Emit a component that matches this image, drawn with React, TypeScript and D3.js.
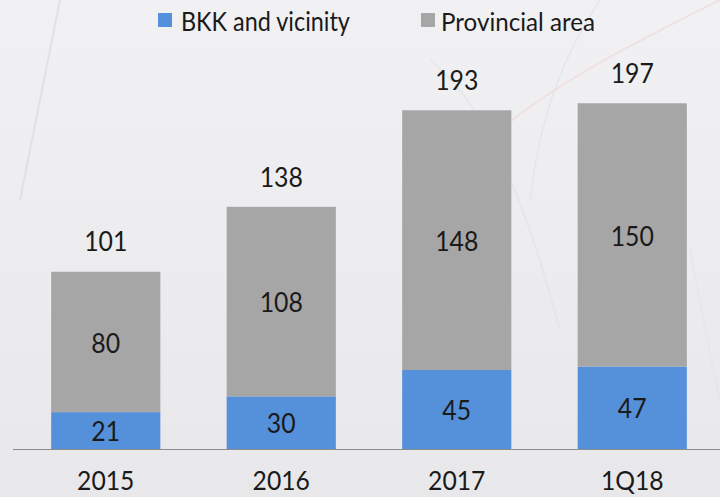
import React from "react";
import * as d3 from "d3";

const categories = ["2015", "2016", "2017", "1Q18"];
const bkk = [21, 30, 45, 47];
const provincial = [80, 108, 148, 150];
const totals = [101, 138, 193, 197];
const seriesNames = ["BKK and vicinity", "Provincial area"];
const colors = ["#5590da", "#a6a6a6"];

const W = 720;
const H = 497;
const FONT = "Lato, 'Open Sans', sans-serif";

function Label({ x, y, children, size = 27, sx = 0.92, anchor = "middle" }: any) {
  return (
    <text
      transform={`translate(${x},${y}) scale(${sx},1)`}
      dy="0.36em"
      textAnchor={anchor}
      fontFamily={FONT}
      fontSize={size}
      fill="#1a1a1a"
    >
      {children}
    </text>
  );
}

export default function App() {
  const x = d3.scaleBand<string>().domain(categories).range([18, 720]).paddingInner(0.378).paddingOuter(0.189);
  const y = d3.scaleLinear().domain([0, 100]).range([449, 273.5]);
  const rows = categories.map((c, i) => ({ cat: c, bkk: bkk[i], prov: provincial[i] }));
  const stack = d3.stack<any>().keys(["bkk", "prov"])(rows);
  const cx = (c: string) => (x(c) as number) + x.bandwidth() / 2;

  return (
    <svg width={W} height={H} style={{ position: "absolute", left: 0, top: 0 }}>
      <defs>
        <linearGradient id="bg" x1="0" y1="0" x2="0" y2="1">
          <stop offset="0" stopColor="#f1f1f3" />
          <stop offset="1" stopColor="#e8e8ea" />
        </linearGradient>
      </defs>
      <rect x={0} y={0} width={W} height={H} fill="url(#bg)" />
      {/* faint background strokes */}
      <path d="M60,0 L20,200" stroke="#d8dbe3" strokeWidth={2} fill="none" opacity={0.7} />
      <path d="M430,60 C480,100 520,180 560,330" stroke="#e0e2e8" strokeWidth={2} fill="none" opacity={0.6} />
      <path d="M720,0 C640,40 560,80 500,130" stroke="#efd9d9" strokeWidth={2} fill="none" opacity={0.7} />
      <path d="M600,0 C560,60 540,120 530,200" stroke="#dfe1e7" strokeWidth={1.5} fill="none" opacity={0.6} />
      <path d="M690,250 C700,300 710,360 720,400" stroke="#e0e2e8" strokeWidth={1.5} fill="none" opacity={0.6} />

      {stack.map((s, si) =>
        s.map((d, i) => (
          <rect
            key={`${si}-${i}`}
            x={x(categories[i])}
            y={y(d[1])}
            width={x.bandwidth()}
            height={y(d[0]) - y(d[1])}
            fill={colors[si]}
          />
        ))
      )}

      <line x1={13} x2={720} y1={449.5} y2={449.5} stroke="#8c8c8c" strokeWidth={1.2} />

      {stack.map((s, si) =>
        s.map((d, i) => (
          <Label key={`l${si}-${i}`} x={cx(categories[i])} y={(y(d[0]) + y(d[1])) / 2 + 1}>
            {d[1] - d[0]}
          </Label>
        ))
      )}

      {totals.map((t, i) => (
        <Label key={`t${i}`} x={cx(categories[i])} y={y(t) - 30}>
          {t}
        </Label>
      ))}

      {categories.map((c, i) => (
        <Label key={`c${i}`} x={cx(c)} y={481} size={26} sx={0.95}>
          {c}
        </Label>
      ))}

      {/* legend */}
      <rect x={158} y={13} width={14} height={14} fill={colors[0]} />
      <Label x={181} y={22} size={26} sx={0.9} anchor="start">
        {seriesNames[0]}
      </Label>
      <rect x={421} y={13} width={14} height={14} fill={colors[1]} />
      <Label x={441} y={22} size={26} sx={0.93} anchor="start">
        {seriesNames[1]}
      </Label>
    </svg>
  );
}
